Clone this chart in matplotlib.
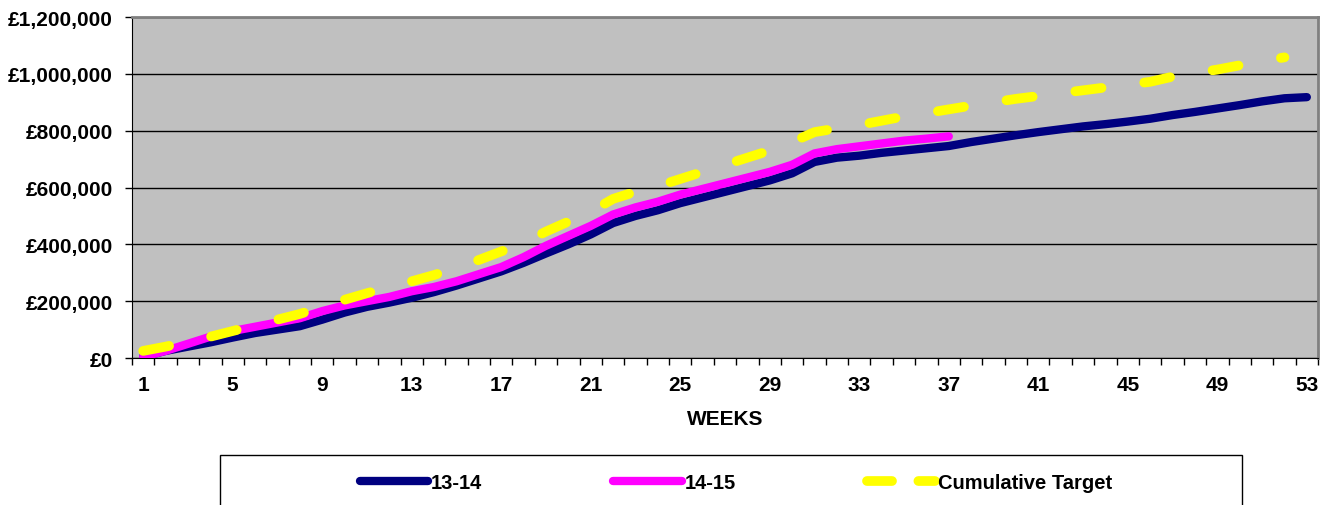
import matplotlib
matplotlib.use("Agg")
import matplotlib.pyplot as plt
from matplotlib.lines import Line2D
from matplotlib.patches import Rectangle
from matplotlib.ticker import FuncFormatter

plt.rcParams['font.family'] = ['Liberation Sans', 'DejaVu Sans']
plt.rcParams['font.weight'] = 'bold'
plt.rcParams['lines.scale_dashes'] = False

weeks = list(range(1, 54))
weeks_1415 = list(range(1, 38))
weeks_target = list(range(1, 53))

# cumulative income 13-14 (53 weeks)
s1314 = [5000, 25000, 40000, 55000, 72000, 88000, 100000, 112000, 135000, 160000,
         180000, 195000, 212000, 232000, 255000, 280000, 305000, 335000, 368000, 400000,
         435000, 475000, 500000, 520000, 545000, 565000, 585000, 605000, 625000, 650000,
         690000, 705000, 712000, 722000, 730000, 738000, 746000, 760000, 772000, 784000,
         795000, 805000, 815000, 823000, 832000, 842000, 855000, 866000, 878000, 890000,
         903000, 914000, 918000]

# cumulative income 14-15 (to week 37)
s1415 = [5000, 25000, 50000, 75000, 95000, 110000, 125000, 140000, 165000, 185000,
         200000, 215000, 235000, 250000, 270000, 295000, 320000, 355000, 395000, 430000,
         465000, 505000, 530000, 550000, 575000, 595000, 615000, 635000, 655000, 680000,
         720000, 735000, 745000, 755000, 765000, 772000, 780000]

target = [25000, 40000, 57000, 75000, 95000, 115000, 135000, 155000, 180000, 205000,
          228000, 250000, 270000, 292000, 318000, 345000, 375000, 405000, 445000, 480000,
          515000, 560000, 585000, 605000, 630000, 655000, 680000, 705000, 730000, 760000,
          795000, 808000, 820000, 835000, 850000, 862000, 875000, 888000, 900000, 912000,
          922000, 932000, 942000, 952000, 962000, 972000, 990000, 1003000, 1015000, 1030000,
          1045000, 1058000]

x_labels = [str(w) for w in range(1, 54, 4)]

fig = plt.figure(figsize=(13.32, 5.06), dpi=100)
ax = fig.add_axes([0.0991, 0.2905, 0.8904, 0.6739])
ax.set_facecolor('#C0C0C0')

l1, = ax.plot(weeks, s1314, color='#000080', lw=6, solid_capstyle='round',
              solid_joinstyle='round', label='13-14', zorder=3)
l2, = ax.plot(weeks_1415, s1415, color='#FF00FF', lw=6, solid_capstyle='round',
              solid_joinstyle='round', label='14-15', zorder=4)
ax.plot(weeks_target, target, color='#FFFF00', lw=7, dash_capstyle='round',
        dashes=(19, 31), label='Cumulative Target', zorder=5)

ax.set_xlim(0.5, 53.5)
ax.set_ylim(0, 1200000)
ax.set_yticks(range(0, 1200001, 200000))
ax.yaxis.set_major_formatter(FuncFormatter(lambda v, p: '£{:,.0f}'.format(v)))
ax.grid(axis='y', color='black', lw=1)
ax.set_axisbelow(True)

ax.set_xticks(range(1, 54, 4))
ax.set_xticklabels(x_labels)
ax.set_xticks([w + 0.5 for w in range(0, 54)], minor=True)
ax.tick_params(axis='x', which='major', length=0, pad=12, labelsize=15)
ax.tick_params(axis='x', which='minor', length=5, width=1, direction='out')
ax.tick_params(axis='y', length=5, width=1, pad=9, labelsize=15)
ax.set_xlabel('WEEKS', fontsize=15, fontweight='bold', labelpad=11)

for side in ['top', 'right']:
    ax.spines[side].set_color('#808080')
    ax.spines[side].set_linewidth(2)
ax.spines['left'].set_color('black')
ax.spines['bottom'].set_color('black')

# legend box, cut off at the bottom like the original
fig.patches.append(Rectangle((220 / 1332, -0.05), 1022 / 1332, (50 + 0.05 * 506) / 506,
                             transform=fig.transFigure, facecolor='white',
                             edgecolor='black', lw=1))
target_handle = Line2D([], [], color='#FFFF00', lw=7, dash_capstyle='round',
                       dashes=(18, 19))
fig.legend([l1, l2, target_handle], ['13-14', '14-15', 'Cumulative Target'],
           loc='center', bbox_to_anchor=(736 / 1332, 1 - 484 / 506), ncol=3,
           frameon=False, fontsize=14.5, handlelength=3.4, handletextpad=0.15,
           columnspacing=6.5)

fig.savefig('out.png', dpi=100)
